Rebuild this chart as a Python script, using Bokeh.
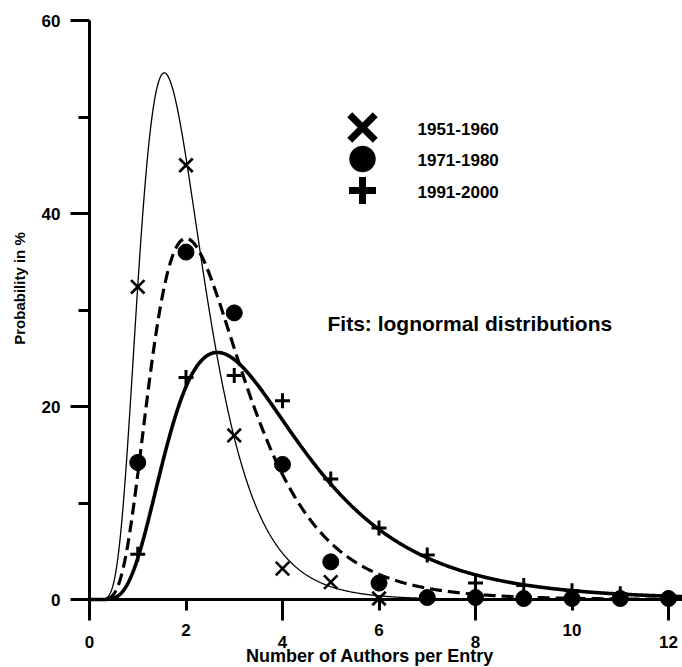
import numpy as np
from bokeh.plotting import figure
from bokeh.models import (Range1d, LinearAxis, FixedTicker, Label)
from bokeh.embed import file_html
from bokeh.resources import INLINE

# ---------------- data ----------------
authors_1951 = [1, 2, 3, 4, 5, 6]
prob_1951 = [32.4, 45.0, 17.0, 3.2, 1.8, 0.1]

authors_1971 = [1, 2, 3, 4, 5, 6, 7, 8, 9, 10, 11, 12]
prob_1971 = [14.2, 36.0, 29.7, 14.0, 3.9, 1.7, 0.2, 0.2, 0.1, 0.1, 0.1, 0.1]

authors_1991 = [1, 2, 3, 4, 5, 6, 7, 8, 9, 10, 11, 12]
prob_1991 = [4.7, 23.0, 23.2, 20.6, 12.5, 7.4, 4.6, 1.7, 1.45, 0.9, 0.6, 0.2]

series_labels = ["1951-1960", "1971-1980", "1991-2000"]

# lognormal fit parameters (mode of the distribution, shape sigma), total = 100 %
fit_mode = [1.55, 2.0, 2.65]
fit_sigma = [0.43, 0.476, 0.515]

x_ticks_long = [0, 4, 8, 12]
x_ticks_short = [2, 6, 10]
y_ticks = [0, 20, 40, 60]
y_minor_ticks = [10, 30, 50]

FONT = "Liberation Sans"

# ---------------- figure ----------------
PX_X = 48.25   # pixels per author
PX_Y = 9.65    # pixels per percent
X0, Y0 = 89, 599
W, H = 682, 667


def dx(px):  # screen x pixel -> data x
    return (px - X0) / PX_X


def dy(py):  # screen y pixel -> data y
    return (Y0 - py) / PX_Y


p = figure(width=W, height=H,
           x_range=Range1d(dx(0), dx(W)),
           y_range=Range1d(dy(H), dy(0)),
           x_axis_type=None, y_axis_type=None,
           toolbar_location=None, output_backend="svg",
           min_border=0, outline_line_color=None)


def lognormal(x, mode, sigma):
    mu = np.log(mode) + sigma ** 2
    return 100.0 / (x * sigma * np.sqrt(2 * np.pi)) * np.exp(-(np.log(x) - mu) ** 2 / (2 * sigma ** 2))


xs = np.linspace(0.005, 12.29, 800)
curve_styles = [dict(line_width=1.3), dict(line_width=3.2, line_dash="12 6"), dict(line_width=3.6)]
for mode, sigma, st in zip(fit_mode, fit_sigma, curve_styles):
    p.line(xs, lognormal(xs, mode, sigma), line_color="black", **st)

# ---------------- data markers ----------------
p.scatter(authors_1951, prob_1951, marker="x", size=19, line_width=2.7, line_color="black")
p.scatter(authors_1971, prob_1971, marker="circle", size=16, line_color="black", fill_color="black")
p.scatter(authors_1991, prob_1991, marker="cross", size=15, line_width=3, line_color="black")

# ---------------- axes ----------------
def style_axis(ax):
    ax.major_label_text_font = FONT
    ax.major_label_text_font_style = "bold"
    ax.major_label_text_font_size = "17px"
    ax.major_label_text_color = "black"
    ax.axis_label_text_font = FONT
    ax.axis_label_text_font_style = "bold"
    ax.axis_label_text_color = "black"
    ax.axis_line_color = "black"
    ax.major_tick_line_color = "black"
    ax.minor_tick_line_color = "black"


ya = LinearAxis(ticker=FixedTicker(ticks=y_ticks, minor_ticks=y_minor_ticks),
                fixed_location=0, bounds=(0, 60))
style_axis(ya)
ya.axis_line_width = 3
ya.major_tick_out = 19
ya.major_tick_in = 0
ya.major_tick_line_width = 3
ya.minor_tick_out = 11
ya.minor_tick_in = 0
ya.minor_tick_line_width = 3
ya.major_label_standoff = 10
p.add_layout(ya, "left")

yt = LinearAxis(ticker=FixedTicker(ticks=[]), fixed_location=0, bounds=(4.46, 60))
style_axis(yt)
yt.axis_line_color = None
yt.major_tick_out = 0
yt.major_tick_in = 0
yt.minor_tick_out = 0
yt.major_label_standoff = 0
yt.axis_label = "Probability in %"
yt.axis_label_text_font_size = "15px"
yt.axis_label_standoff = 62
p.add_layout(yt, "left")

xa = LinearAxis(ticker=FixedTicker(ticks=x_ticks_long), fixed_location=0, bounds=(0, 12.29))
style_axis(xa)
xa.axis_line_width = 3
xa.major_tick_out = 21
xa.major_tick_in = 0
xa.minor_tick_out = 0
xa.major_tick_line_width = 3
xa.major_label_standoff = 15
p.add_layout(xa, "below")

xb = LinearAxis(ticker=FixedTicker(ticks=x_ticks_short), fixed_location=0, bounds=(-0.664, 12.29))
style_axis(xb)
xb.axis_line_color = None
xb.major_tick_out = 11
xb.major_tick_in = 0
xb.minor_tick_out = 0
xb.major_tick_line_width = 3
xb.major_label_standoff = 13
xb.axis_label = "Number of Authors per Entry"
xb.axis_label_text_font_size = "18px"
xb.axis_label_standoff = 7
p.add_layout(xb, "below")

# ---------------- legend (drawn in screen-pixel layout) ----------------
LEG_MARK_X = 362
LEG_TEXT_X = 417
LEG_ROW_Y = 127
LEG_ROW_DY = 31.5
leg_markers = ["x", "circle", "cross"]
leg_sizes = [36, 26, 27]
leg_widths = [7, 0.5, 7]
for i, (lab, mk, sz, lw) in enumerate(zip(series_labels, leg_markers, leg_sizes, leg_widths)):
    ry = LEG_ROW_Y + i * LEG_ROW_DY
    p.scatter([dx(LEG_MARK_X)], [dy(ry)], marker=mk, size=sz, line_width=lw,
              line_color="black", fill_color="black")
    p.add_layout(Label(x=dx(LEG_TEXT_X), y=dy(ry + 1), text=lab, text_font=FONT,
                       text_font_style="bold", text_font_size="17px",
                       text_baseline="middle", text_color="black"))

p.add_layout(Label(x=dx(327), y=dy(323), text="Fits: lognormal distributions",
                   text_font=FONT, text_font_style="bold", text_font_size="21px",
                   text_baseline="middle", text_color="black"))

open("out.html", "w").write(file_html(p, INLINE))
